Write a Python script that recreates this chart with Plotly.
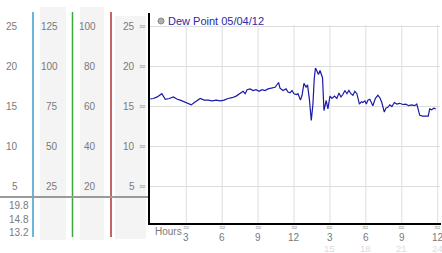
import plotly.graph_objects as go

# ---- data ----
hours = [0, 0.25, 0.58, 0.96, 1.25, 1.58, 1.92, 2.25, 2.5, 2.83, 3.17, 3.42, 3.67, 3.92,
         4.17, 4.5, 4.83, 5.17, 5.5, 5.83, 6.17, 6.5, 6.83, 7.17, 7.5, 7.75, 7.92, 8.08,
         8.33, 8.58, 8.83, 9.08, 9.33, 9.58, 9.83, 10.08, 10.42, 10.71, 10.83, 11.08,
         11.33, 11.5, 11.67, 11.83, 12.0, 12.21, 12.33, 12.54, 12.67, 12.83, 13.0, 13.13,
         13.29, 13.44, 13.58, 13.69, 13.79, 13.92, 14.04, 14.17, 14.25, 14.38, 14.5, 14.58,
         14.69, 14.83, 15.0, 15.17, 15.38, 15.58, 15.75, 15.92, 16.08, 16.25, 16.42, 16.58,
         16.75, 16.92, 17.08, 17.25, 17.46, 17.63, 17.75, 17.92, 18.04, 18.17, 18.33, 18.58,
         18.79, 19.0, 19.17, 19.33, 19.54, 19.67, 19.83, 20.0, 20.17, 20.38, 20.58, 20.83,
         21.08, 21.33, 21.58, 21.83, 22.08, 22.25, 22.38, 22.5, 22.75, 23.0, 23.21, 23.33,
         23.5, 23.67, 23.83]
dew_point = [15.96, 16.0, 16.2, 16.6, 15.9, 16.0, 16.2, 15.9, 15.8, 15.6, 15.4, 15.2, 15.5, 15.7,
             16.0, 15.8, 15.8, 15.7, 15.8, 15.7, 15.8, 16.0, 16.1, 16.3, 16.6, 16.9, 16.6, 17.1,
             17.2, 17.0, 17.1, 16.9, 17.1, 17.0, 17.2, 17.3, 17.4, 18.0, 17.3, 17.0,
             17.2, 16.8, 16.7, 17.0, 16.6, 16.5, 16.6, 15.8, 16.4, 17.9, 17.4, 17.7,
             15.8, 13.25, 15.3, 18.5, 19.8, 19.4, 19.0, 19.5, 19.1, 18.6, 14.5, 15.0,
             15.75, 14.7, 16.3, 16.0, 16.3, 16.0, 16.7, 16.2, 16.5, 17.0, 16.6, 17.0,
             16.6, 16.4, 16.9, 16.6, 15.3, 15.6, 15.5, 15.7, 15.3, 15.8, 15.9, 15.1,
             16.0, 16.4, 16.1, 15.5, 14.3, 14.8, 14.9, 15.2, 15.0, 15.5, 15.3, 15.4,
             15.25, 15.3, 15.1, 15.2, 15.1, 15.3, 14.6, 13.9, 13.8, 13.8, 13.8, 14.7,
             14.6, 14.8, 14.7]
series_name = "Dew Point 05/04/12"

col1_labels = ["25", "20", "15", "10", "5"]
col2_labels = ["125", "100", "75", "50", "25"]
col3_labels = ["100", "80", "60", "40", "20"]
col4_labels = ["25", "20", "15", "10", "5"]
y_ticks = [25, 20, 15, 10, 5]
stats_labels = ["19.8", "14.8", "13.2"]

x_ticks = [3, 6, 9, 12, 15, 18, 21, 24]
x_tick_labels = ["3", "6", "9", "12", "3", "6", "9", "12"]
alt_ticks = [15, 18, 21, 24]
alt_labels = ["15", "18", "21", "24"]

# ---- helpers ----
W, H = 442, 253
def X(px):
    return px / W
def Y(py):
    return 1 - py / H

FONT = "Liberation Sans"
GRAY = "#7a7a7a"
MARK = "#999999"

fig = go.Figure()
fig.add_trace(go.Scatter(x=hours, y=dew_point, mode="lines",
                         line=dict(color="#1a1aa8", width=1.2),
                         hoverinfo="skip", showlegend=False))

shapes = []
ann = []

# left panel column backgrounds
for x0, x1, y0, y1 in [(40, 66, 7, 240), (80, 104, 7, 240), (115, 146, 16, 239)]:
    shapes.append(dict(type="rect", xref="paper", yref="paper",
                       x0=X(x0), x1=X(x1), y0=Y(y1), y1=Y(y0),
                       fillcolor="#f4f4f4", line=dict(width=0), layer="below"))
# colored separators
for xp, col in [(33, "#3b9ccc"), (72.5, "#3aa83a"), (111, "#b03030")]:
    shapes.append(dict(type="line", xref="paper", yref="paper",
                       x0=X(xp), x1=X(xp), y0=Y(12), y1=Y(237),
                       line=dict(color=col, width=1.5)))
# gray horizontal separator
shapes.append(dict(type="line", xref="paper", yref="paper",
                   x0=0, x1=X(149), y0=Y(197), y1=Y(197),
                   line=dict(color="#9a9a9a", width=2)))

# vertical gridlines in plot
for h in x_ticks:
    shapes.append(dict(type="line", xref="x", yref="y", x0=h, x1=h, y0=0.3, y1=25.2,
                       line=dict(color="#dddddd", width=1), layer="below"))
# axes lines
shapes.append(dict(type="line", xref="paper", yref="paper",
                   x0=X(149), x1=X(149), y0=Y(224), y1=Y(13),
                   line=dict(color="black", width=2)))
shapes.append(dict(type="line", xref="paper", yref="paper",
                   x0=X(148), x1=X(441), y0=Y(224), y1=Y(224),
                   line=dict(color="black", width=2)))

# column labels
for labels, xr in [(col1_labels, 20), (col2_labels, 60), (col3_labels, 98), (col4_labels, 137)]:
    for lab, v in zip(labels, y_ticks):
        ann.append(dict(text=lab, xref="paper", yref="y", x=X(xr), y=v,
                        xanchor="right", yanchor="middle", showarrow=False,
                        font=dict(family=FONT, size=10, color=GRAY)))
# small tick glyphs next to the value axis
for v in y_ticks:
    ann.append(dict(text="≈", xref="paper", yref="y", x=X(147), y=v,
                    xanchor="right", yanchor="middle", showarrow=False,
                    borderpad=0,
                    font=dict(family="DejaVu Sans", size=8, color="#8c8c8c")))
# stats
for lab, py in zip(stats_labels, [205, 219, 232]):
    ann.append(dict(text=lab, xref="paper", yref="paper", x=X(7), y=Y(py),
                    xanchor="left", yanchor="middle", showarrow=False,
                    font=dict(family=FONT, size=10, color=GRAY)))

# x tick labels
for h, lab in zip(x_ticks, x_tick_labels):
    ann.append(dict(text="≈", xref="x", yref="paper", x=h, y=Y(227.5),
                    xanchor="center", yanchor="middle", showarrow=False,
                    borderpad=0,
                    font=dict(family="DejaVu Sans", size=8, color=MARK)))
    ann.append(dict(text=lab, xref="x", yref="paper", x=h, y=Y(237),
                    xanchor="center", yanchor="middle", showarrow=False,
                    borderpad=0,
                    font=dict(family=FONT, size=10, color=GRAY)))
for h, lab in zip(alt_ticks, alt_labels):
    ann.append(dict(text=lab, xref="x", yref="paper", x=h, y=Y(248),
                    xanchor="center", yanchor="middle", showarrow=False,
                    borderpad=0,
                    font=dict(family=FONT, size=9.5, color="#dcdcdc")))
ann.append(dict(text="Hours", xref="paper", yref="paper", x=X(153), y=Y(231.5),
                xanchor="left", yanchor="middle", showarrow=False,
                font=dict(family=FONT, size=10, color=GRAY)))

# legend
shapes.append(dict(type="circle", xref="paper", yref="paper",
                   x0=X(158), x1=X(164), y0=Y(24), y1=Y(18),
                   fillcolor="#b0b0b0", line=dict(color="#8a8a8a", width=1)))
ann.append(dict(text=series_name, xref="paper", yref="paper", x=X(166), y=Y(21),
                xanchor="left", yanchor="middle", showarrow=False,
                font=dict(family=FONT, size=11, color="#2a2aa8")))

fig.update_layout(
    width=W, height=H, margin=dict(l=0, r=0, t=0, b=0),
    paper_bgcolor="white", plot_bgcolor="white",
    shapes=shapes, annotations=ann, showlegend=False,
    xaxis=dict(domain=[X(149), X(440)], range=[-0.11, 24.19], showgrid=False,
               zeroline=False, showticklabels=False, ticks="", showline=False),
    yaxis=dict(domain=[Y(224), Y(13)], range=[0.31, 26.69], tickvals=y_ticks,
               showgrid=True, gridcolor="#dddddd", gridwidth=1,
               zeroline=False, showticklabels=False, ticks="", showline=False),
)

fig.write_html("out.html")
